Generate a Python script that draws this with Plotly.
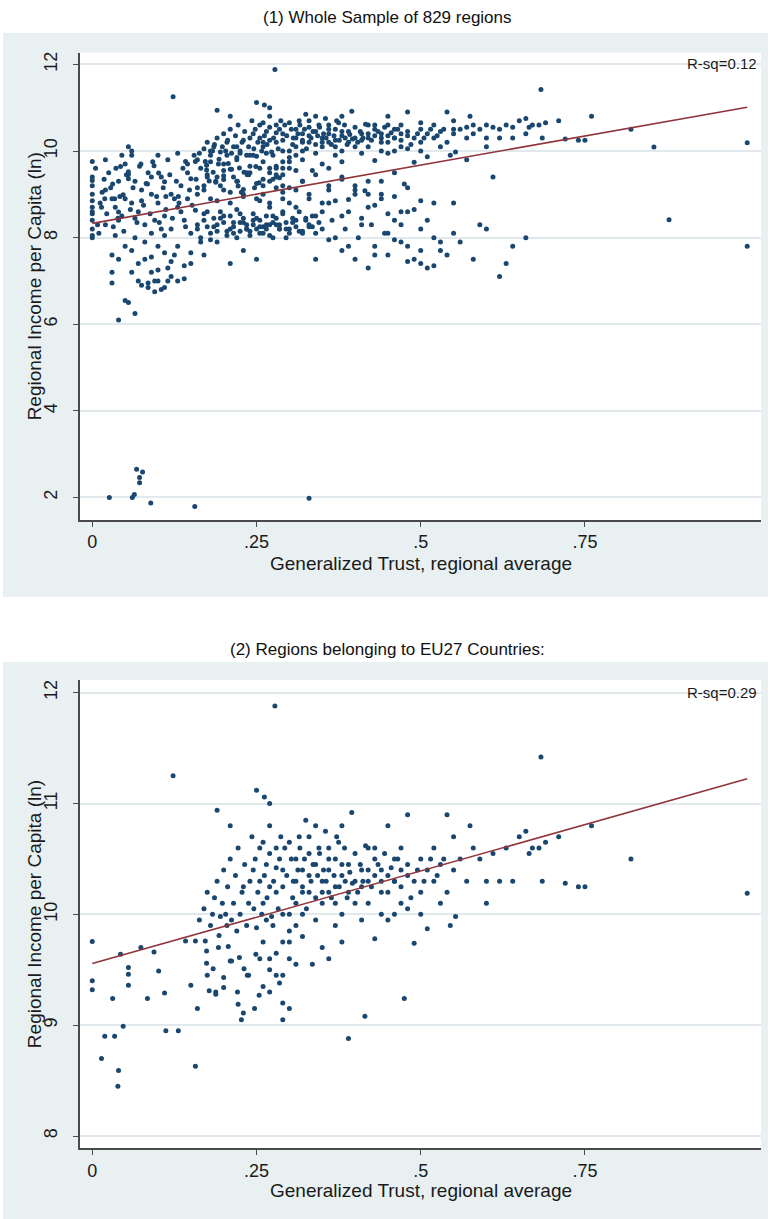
import plotly.graph_objects as go

W, H = 770, 1219

# EU27 regions: generalized trust (regional average) and log income per capita
eu_trust = [0.0, 0.0, 0.0, 0.014, 0.019, 0.034, 0.031, 0.040, 0.039, 0.047, 0.043, 0.055, 0.055, 0.055,
            0.074, 0.084, 0.094, 0.101, 0.110, 0.112, 0.131, 0.142, 0.157, 0.150, 0.160, 0.157,
            0.172, 0.174, 0.174, 0.175, 0.178, 0.184, 0.188, 0.188, 0.192, 0.193, 0.200, 0.200,
            0.207, 0.210, 0.212, 0.220, 0.221, 0.224, 0.222, 0.230, 0.227, 0.231, 0.236, 0.238,
            0.247, 0.249, 0.254, 0.123,
            0.278, 0.250, 0.262, 0.270, 0.270, 0.260, 0.280, 0.285, 0.265, 0.290, 0.255, 0.270,
            0.280, 0.260, 0.290, 0.265, 0.275, 0.300, 0.290, 0.280, 0.270, 0.285, 0.270, 0.290,
            0.300, 0.290, 0.260, 0.255,
            0.30, 0.31, 0.31, 0.32, 0.32, 0.33, 0.33, 0.34, 0.34, 0.35, 0.35, 0.36, 0.36, 0.37,
            0.37, 0.38, 0.38, 0.39, 0.39, 0.40, 0.31, 0.32, 0.34, 0.35, 0.36, 0.335, 0.38, 0.39,
            0.30, 0.32, 0.345, 0.355, 0.375, 0.395, 0.33, 0.36, 0.385, 0.40, 0.37, 0.305, 0.315,
            0.325,
            0.41, 0.41, 0.415, 0.42, 0.42, 0.43, 0.43, 0.44, 0.44, 0.45, 0.45, 0.46, 0.46, 0.47,
            0.47, 0.475, 0.48, 0.48, 0.49, 0.49, 0.50, 0.50, 0.51, 0.51, 0.52, 0.52, 0.53, 0.54,
            0.54, 0.545, 0.55, 0.55, 0.553, 0.44, 0.46, 0.50, 0.42, 0.43, 0.47, 0.53,
            0.56, 0.57, 0.58, 0.59, 0.60, 0.61, 0.62, 0.63, 0.64, 0.65, 0.66, 0.665, 0.67, 0.68,
            0.683, 0.685, 0.69, 0.60, 0.575,
            0.71, 0.72, 0.74, 0.75, 0.76, 0.82, 0.997,
            0.163, 0.170, 0.175, 0.180, 0.183, 0.186, 0.190, 0.190, 0.195, 0.198, 0.200, 0.203,
            0.206, 0.210, 0.212, 0.215, 0.218, 0.222, 0.225, 0.228, 0.232, 0.235, 0.238, 0.240,
            0.243, 0.246, 0.248, 0.250, 0.252, 0.210, 0.230, 0.205, 0.245,
            0.255, 0.258, 0.262, 0.266, 0.270, 0.273, 0.276, 0.280, 0.283, 0.287, 0.290, 0.293,
            0.296, 0.300, 0.303, 0.306, 0.310, 0.313, 0.316, 0.320, 0.323, 0.326, 0.330, 0.333,
            0.336, 0.340, 0.343, 0.346, 0.350, 0.270, 0.280, 0.300, 0.310, 0.260, 0.290,
            0.352, 0.356, 0.360, 0.364, 0.368, 0.372, 0.376, 0.380, 0.384, 0.388, 0.392, 0.396,
            0.400, 0.404, 0.408, 0.412, 0.416, 0.420, 0.425, 0.430, 0.435, 0.440, 0.445, 0.450,
            0.455, 0.460, 0.465, 0.470, 0.480, 0.485, 0.495, 0.505, 0.515, 0.525, 0.535, 0.370,
            0.380, 0.410, 0.450, 0.480]
eu_income = [9.755, 9.40, 9.32, 8.70, 8.90, 8.90, 9.24, 8.59, 8.45, 8.99, 9.64, 9.52, 9.46, 9.36,
             9.70, 9.24, 9.66, 9.49, 9.29, 8.95, 8.95, 9.76, 9.76, 9.36, 9.15, 8.63,
             9.76, 9.67, 9.56, 9.45, 9.31, 9.51, 9.30, 9.28, 9.70, 9.81, 9.43, 9.34,
             9.71, 9.58, 9.58, 9.85, 9.30, 9.61, 9.19, 9.11, 9.05, 9.51, 9.45, 9.45,
             9.15, 9.64, 9.27, 11.25,
             11.88, 11.12, 11.06, 11.00, 10.80, 10.65, 10.60, 10.50, 10.45, 10.40, 10.30, 10.25,
             10.20, 10.10, 10.00, 9.95, 9.90, 9.85, 9.75, 9.65, 9.50, 9.38, 9.30, 9.20,
             9.15, 9.05, 9.35, 9.60,
             10.65, 10.50, 10.30, 10.40, 10.20, 10.55, 10.35, 10.80, 10.45, 10.30, 10.10, 10.60, 10.40, 10.25,
             10.50, 10.35, 10.80, 10.20, 10.45, 10.30, 9.90, 9.80, 9.95, 9.70, 9.60, 9.55, 10.00, 8.88,
             9.60, 10.00, 10.60, 10.75, 10.65, 10.92, 10.20, 10.20, 10.30, 10.10, 10.10, 10.15, 10.70,
             10.85,
             10.40, 10.25, 9.08, 10.60, 10.30, 10.50, 9.78, 10.40, 10.20, 10.35, 10.80, 10.50, 10.30, 10.40,
             10.10, 9.24, 10.45, 10.90, 10.30, 9.74, 10.50, 10.20, 10.40, 9.87, 10.60, 10.30, 10.45, 10.90,
             10.20, 9.90, 10.70, 10.40, 9.98, 10.00, 10.00, 10.00, 10.10, 10.60, 10.60, 10.10,
             10.50, 10.30, 10.60, 10.50, 10.30, 10.55, 10.30, 10.60, 10.30, 10.70, 10.75, 10.55, 10.60, 10.60,
             11.42, 10.30, 10.65, 10.10, 10.80,
             10.70, 10.28, 10.25, 10.25, 10.80, 10.50, 10.19,
             9.95, 10.05, 10.20, 9.90, 10.00, 10.15, 10.94, 10.30, 9.98, 10.10, 10.40, 10.00,
             10.25, 10.50, 9.95, 10.10, 10.35, 10.60, 10.00, 10.20, 10.45, 9.90, 10.10, 10.30,
             10.70, 10.05, 10.50, 9.88, 10.20, 10.80, 10.25, 9.90, 10.40,
             10.60, 10.00, 10.35, 10.15, 10.55, 9.98, 10.30, 10.42, 10.05, 10.70, 10.25, 10.60,
             10.35, 10.00, 10.50, 10.30, 10.10, 10.40, 10.60, 10.25, 10.50, 10.05, 10.70, 10.30,
             10.45, 10.15, 10.35, 10.55, 10.20, 9.60, 9.45, 9.75, 9.55, 9.75, 9.45,
             10.40, 10.30, 10.50, 10.15, 10.35, 10.70, 10.25, 10.45, 10.60, 10.15, 10.38, 10.28,
             10.55, 10.20, 10.45, 10.30, 10.62, 10.40, 10.25, 10.35, 10.45, 10.30, 10.55, 10.20,
             10.42, 10.30, 10.50, 10.25, 10.35, 10.15, 10.40, 10.30, 10.50, 10.35, 10.50, 9.90,
             9.75, 9.95, 9.95, 10.05]

# Regions outside the EU27 (shown only in the whole sample)
other_trust = [0.0, 0.0, 0.0, 0.0, 0.0, 0.0, 0.0, 0.0, 0.0, 0.0,
               0.01, 0.02, 0.02, 0.03, 0.03, 0.03, 0.04, 0.04, 0.04, 0.045, 0.05, 0.05, 0.05, 0.055,
               0.06, 0.06, 0.06, 0.065, 0.065, 0.07, 0.07, 0.075, 0.08, 0.08, 0.085, 0.09, 0.09, 0.09,
               0.095, 0.10, 0.10, 0.10, 0.105, 0.11, 0.11, 0.115, 0.12, 0.12, 0.12, 0.125, 0.13, 0.13,
               0.135, 0.14, 0.14, 0.145, 0.15, 0.15, 0.015, 0.025, 0.035, 0.045, 0.055, 0.065, 0.075,
               0.085, 0.095, 0.105, 0.115, 0.125, 0.135, 0.145,
               0.026, 0.061, 0.064, 0.0675, 0.0765, 0.072, 0.072, 0.089, 0.156, 0.33,
               0.16, 0.17, 0.18, 0.19, 0.20, 0.21, 0.22, 0.23, 0.24, 0.25, 0.26, 0.27, 0.28, 0.29,
               0.30, 0.31, 0.32, 0.33, 0.34, 0.35, 0.165, 0.175, 0.185, 0.195, 0.205, 0.215, 0.225,
               0.235, 0.245, 0.255, 0.265, 0.275, 0.285, 0.295, 0.305, 0.315, 0.325, 0.335,
               0.16, 0.17, 0.18, 0.19, 0.20, 0.21, 0.22, 0.23, 0.24, 0.25, 0.26, 0.27, 0.28, 0.29,
               0.30, 0.31, 0.32, 0.33,
               0.16, 0.18, 0.20, 0.22, 0.24, 0.26, 0.28, 0.17, 0.19, 0.21, 0.23, 0.25,
               0.36, 0.38, 0.40, 0.42, 0.44, 0.46, 0.48, 0.50, 0.52, 0.37, 0.39, 0.41, 0.43, 0.45,
               0.47, 0.49, 0.51, 0.53, 0.55, 0.36, 0.38, 0.40, 0.42, 0.44, 0.46,
               0.48, 0.50, 0.52, 0.54, 0.56, 0.58, 0.60, 0.62, 0.64, 0.66, 0.47, 0.51, 0.55, 0.59,
               0.63, 0.878, 0.997, 0.855, 0.57, 0.61,
               0.005, 0.008, 0.012, 0.018, 0.022, 0.028, 0.032, 0.036, 0.042, 0.048, 0.052, 0.058,
               0.062, 0.068, 0.072, 0.078, 0.082, 0.088, 0.092, 0.098, 0.102, 0.108, 0.112, 0.118,
               0.122, 0.128, 0.132, 0.138, 0.142, 0.148, 0.152, 0.158, 0.03, 0.04, 0.06, 0.07,
               0.08, 0.09, 0.10, 0.11, 0.12, 0.13, 0.14, 0.15, 0.075, 0.085, 0.095, 0.105, 0.115,
               0.02, 0.05, 0.09, 0.13, 0.145, 0.155, 0.06, 0.10, 0.035, 0.065, 0.11,
               0.160, 0.165, 0.170, 0.175, 0.180, 0.185, 0.190, 0.195, 0.200, 0.205, 0.210, 0.215,
               0.220, 0.225, 0.230, 0.235, 0.240, 0.245, 0.250, 0.255, 0.260, 0.265, 0.270, 0.275,
               0.280, 0.285, 0.290, 0.295, 0.300, 0.305, 0.310, 0.315, 0.320, 0.325, 0.330, 0.335,
               0.340, 0.345, 0.350, 0.215, 0.235, 0.255, 0.275, 0.295, 0.225, 0.245, 0.265, 0.285,
               0.165, 0.170, 0.180, 0.190, 0.200, 0.210, 0.220, 0.230, 0.240, 0.250, 0.260, 0.270,
               0.280, 0.290, 0.175, 0.195, 0.215, 0.235, 0.255, 0.275, 0.185, 0.205, 0.225, 0.245,
               0.36, 0.37, 0.38, 0.39, 0.40, 0.41, 0.42, 0.43, 0.44, 0.45, 0.46, 0.47, 0.48, 0.49,
               0.50, 0.35, 0.33, 0.31, 0.32, 0.34, 0.365, 0.385, 0.405, 0.425, 0.445,
               0.40, 0.42, 0.43, 0.45, 0.46, 0.48, 0.50, 0.52, 0.53, 0.38, 0.36, 0.34,
               0.58, 0.60, 0.62, 0.64, 0.66, 0.55, 0.57, 0.50, 0.45]
other_income = [9.20, 9.00, 8.85, 8.70, 8.55, 8.40, 8.20, 8.05, 8.00, 8.60,
                8.10, 9.80, 8.30, 8.90, 7.60, 6.95, 9.30, 8.40, 6.10, 8.50, 6.55, 7.80, 8.90, 6.50,
                9.90, 8.80, 7.20, 6.25, 8.00, 7.00, 8.60, 9.10, 7.50, 8.30, 6.85, 7.20, 9.00, 8.10,
                6.75, 8.80, 7.00, 7.80, 9.40, 6.85, 8.50, 7.30, 7.10, 9.00, 8.20, 7.60, 7.00, 8.70,
                9.20, 7.05, 8.40, 8.90, 7.40, 8.10, 9.05, 9.50, 8.70, 9.90, 10.10, 9.30, 8.85,
                9.50, 8.40, 8.20, 9.80, 8.90, 8.60, 9.50,
                2.00, 2.00, 2.07, 2.65, 2.59, 2.46, 2.34, 1.87, 1.79, 1.98,
                8.20, 8.40, 8.10, 8.30, 8.50, 8.20, 8.00, 8.35, 8.15, 8.45, 8.25, 8.05, 8.30, 8.60,
                8.20, 8.40, 8.10, 8.30, 8.50, 8.20, 7.90, 8.60, 8.25, 8.45, 8.15, 8.35, 8.55,
                8.20, 8.40, 8.10, 8.30, 8.50, 8.20, 8.00, 8.35, 8.15, 8.45, 8.25,
                9.00, 9.20, 8.90, 9.40, 9.10, 8.80, 9.30, 9.00, 9.50, 8.90, 9.20, 8.70, 9.40, 9.60,
                8.80, 9.10, 9.30, 8.90,
                9.80, 10.00, 9.70, 10.10, 9.90, 10.20, 9.60, 7.60, 7.90, 7.40, 7.70, 7.50,
                8.80, 8.50, 9.00, 8.70, 8.90, 8.40, 8.60, 8.20, 8.80, 8.00, 7.80, 8.30, 7.60, 8.10,
                7.90, 7.50, 7.30, 7.70, 8.10, 9.20, 9.40, 9.10, 9.30, 9.00, 9.50,
                7.80, 7.40, 8.00, 7.60, 7.90, 7.50, 8.20, 7.10, 7.80, 8.00, 8.60, 8.40, 8.80, 8.30,
                7.40, 8.41, 7.80, 10.09, 9.80, 9.40,
                9.60, 8.30, 8.80, 9.35, 8.55, 9.15, 8.25, 9.60, 8.95, 8.15, 9.45, 8.65,
                9.15, 8.35, 9.65, 8.75, 9.25, 8.55, 9.75, 8.95, 8.35, 9.15, 8.65, 9.45,
                8.45, 9.30, 8.80, 9.60, 8.25, 9.10, 8.75, 9.35, 7.20, 7.50, 7.70, 7.40,
                7.90, 7.55, 7.25, 7.65, 7.45, 7.80, 7.35, 7.65, 6.90, 6.95, 7.00, 6.80, 7.00,
                9.10, 9.70, 9.40, 9.95, 9.70, 9.90, 10.00, 9.90, 8.05, 8.45, 8.05,
                8.30, 8.00, 8.55, 8.25, 7.95, 8.45, 8.15, 8.60, 8.35, 8.05, 8.50, 8.25,
                8.65, 8.15, 8.45, 8.30, 8.05, 8.55, 8.20, 8.40, 8.10, 8.50, 8.30, 8.00,
                8.45, 8.20, 8.55, 8.35, 8.10, 8.45, 8.25, 8.60, 8.15, 8.40, 8.25, 8.50,
                8.10, 8.35, 8.60, 8.10, 8.20, 8.25, 8.35, 8.20, 8.35, 8.30, 8.20, 8.30,
                9.60, 9.10, 9.75, 8.85, 9.55, 9.05, 9.80, 8.95, 9.65, 9.25, 9.00, 8.80,
                9.15, 8.90, 9.40, 9.20, 9.40, 9.50, 8.85, 9.35, 10.10, 10.20, 9.95, 9.90,
                9.10, 8.85, 9.35, 8.60, 9.20, 8.45, 9.00, 8.75, 9.30, 8.55, 8.95, 8.30, 9.15, 8.65,
                8.85, 8.80, 9.00, 8.70, 9.30, 9.45, 8.40, 8.20, 8.00, 8.30, 8.10,
                7.50, 7.30, 7.80, 7.60, 7.95, 7.45, 7.70, 7.35, 7.90, 7.70, 7.95, 7.50,
                10.40, 10.60, 10.50, 10.55, 10.40, 10.50, 10.55, 10.65, 10.60]

# Fitted lines (intercept, slope) and their R-squared labels
fit_whole = (8.33, 2.69)
fit_eu = (9.556, 1.672)
rsq_whole = "R-sq=0.12"
rsq_eu = "R-sq=0.29"

panel_titles = ["(1) Whole Sample of 829 regions", "(2) Regions belonging to EU27 Countries:"]
x_title = "Generalized Trust, regional average"
y_title = "Regional Income per Capita (ln)"
x_ticks = [0, 0.25, 0.5, 0.75]
x_tick_text = ["0", ".25", ".5", ".75"]
y_ticks_whole = [2, 4, 6, 8, 10, 12]
y_ticks_eu = [8, 9, 10, 11, 12]

NAVY = "#1A476F"
MAROON = "#90353B"
PANEL_BG = "#E8F0F2"
GRID = "#E2E9EC"
AXIS = "#4A4A4A"
TEXT = "#1A1A1A"
FONT = "Liberation Sans, Arial, Helvetica, sans-serif"


def fx(px):
    return px / W


def fy(py):
    return 1 - py / H


whole_trust = eu_trust + other_trust
whole_income = eu_income + other_income


def fit_line(trust, coef):
    lo, hi = min(trust), max(trust)
    return [lo, hi], [coef[0] + coef[1] * lo, coef[0] + coef[1] * hi]


fig = go.Figure()

panels = [
    dict(x=whole_trust, y=whole_income, coef=fit_whole, xa="x", ya="y"),
    dict(x=eu_trust, y=eu_income, coef=fit_eu, xa="x2", ya="y2"),
]
for p in panels:
    fig.add_trace(go.Scatter(x=p["x"], y=p["y"], mode="markers", xaxis=p["xa"], yaxis=p["ya"],
                             marker=dict(color=NAVY, size=5, line=dict(width=0)),
                             showlegend=False, hoverinfo="skip"))
    lx, ly = fit_line(p["x"], p["coef"])
    fig.add_trace(go.Scatter(x=lx, y=ly, mode="lines", xaxis=p["xa"], yaxis=p["ya"],
                             line=dict(color=MAROON, width=1.6),
                             showlegend=False, hoverinfo="skip"))

# pixel geometry of the two plot regions: (left, right, top, bottom)
boxes = [(80, 761, 52.7, 520.0), (80, 761, 680.0, 1148.3)]
yranges = [[1.48, 12.27], [7.889, 12.115]]
yticks = [y_ticks_whole, y_ticks_eu]
xrange_ = [-0.0187, 1.018]

axis_common = dict(showline=True, linecolor=AXIS, linewidth=1.5, ticks="outside",
                   ticklen=5, tickwidth=1.2, tickcolor=AXIS, zeroline=False,
                   tickfont=dict(family=FONT, size=18, color=TEXT))

for i, (l, r, t, b) in enumerate(boxes):
    sfx = "" if i == 0 else "2"
    fig.layout["xaxis" + sfx] = dict(
        domain=[fx(l), fx(r)], range=xrange_, anchor="y" + sfx,
        tickvals=x_ticks, ticktext=x_tick_text, showgrid=False,
        ticklabelstandoff=0, **axis_common)
    fig.layout["yaxis" + sfx] = dict(
        domain=[fy(b), fy(t)], range=yranges[i], anchor="x" + sfx,
        tickvals=yticks[i], ticktext=[str(v) for v in yticks[i]], tickangle=-90,
        showgrid=True, gridcolor=GRID, gridwidth=1.5, ticklabelstandoff=9, **axis_common)

# the page is the panel colour; white bands separate the two panels
shapes = []
for (x0, x1, y0, y1) in [(0, 770, 0, 33), (0, 770, 597, 662), (0, 3, 0, 1219), (768, 770, 0, 1219)]:
    shapes.append(dict(type="rect", xref="paper", yref="paper", x0=fx(x0), x1=fx(x1),
                       y0=fy(y1), y1=fy(y0), fillcolor="white", line=dict(width=0),
                       layer="below"))

annotations = []
title_y = [17, 649]
xtitle_y = [563, 1190]
for i, (pl, pr, pt, pb) in enumerate(boxes):
    annotations.append(dict(text=panel_titles[i], xref="paper", yref="paper", x=fx(387),
                            y=fy(title_y[i]), xanchor="center", yanchor="middle", showarrow=False,
                            font=dict(family=FONT, size=17, color="#111111")))
    annotations.append(dict(text=x_title, xref="paper", yref="paper", x=fx((pl + pr) / 2),
                            y=fy(xtitle_y[i]), xanchor="center", yanchor="middle", showarrow=False,
                            font=dict(family=FONT, size=19, color=TEXT)))
    annotations.append(dict(text=y_title, xref="paper", yref="paper", x=fx(34),
                            y=fy((pt + pb) / 2), xanchor="center", yanchor="middle",
                            textangle=-90, showarrow=False,
                            font=dict(family=FONT, size=19, color=TEXT)))

annotations.append(dict(text=rsq_whole, xref="paper", yref="paper", x=fx(759), y=fy(63),
                        xanchor="right", yanchor="middle", showarrow=False,
                        font=dict(family=FONT, size=15, color=TEXT)))
annotations.append(dict(text=rsq_eu, xref="paper", yref="paper", x=fx(759), y=fy(692),
                        xanchor="right", yanchor="middle", showarrow=False,
                        font=dict(family=FONT, size=15, color=TEXT)))

fig.update_layout(width=W, height=H, margin=dict(l=0, r=0, t=0, b=0),
                  paper_bgcolor=PANEL_BG, plot_bgcolor="white",
                  shapes=shapes, annotations=annotations, showlegend=False)

fig.write_html("out.html")
